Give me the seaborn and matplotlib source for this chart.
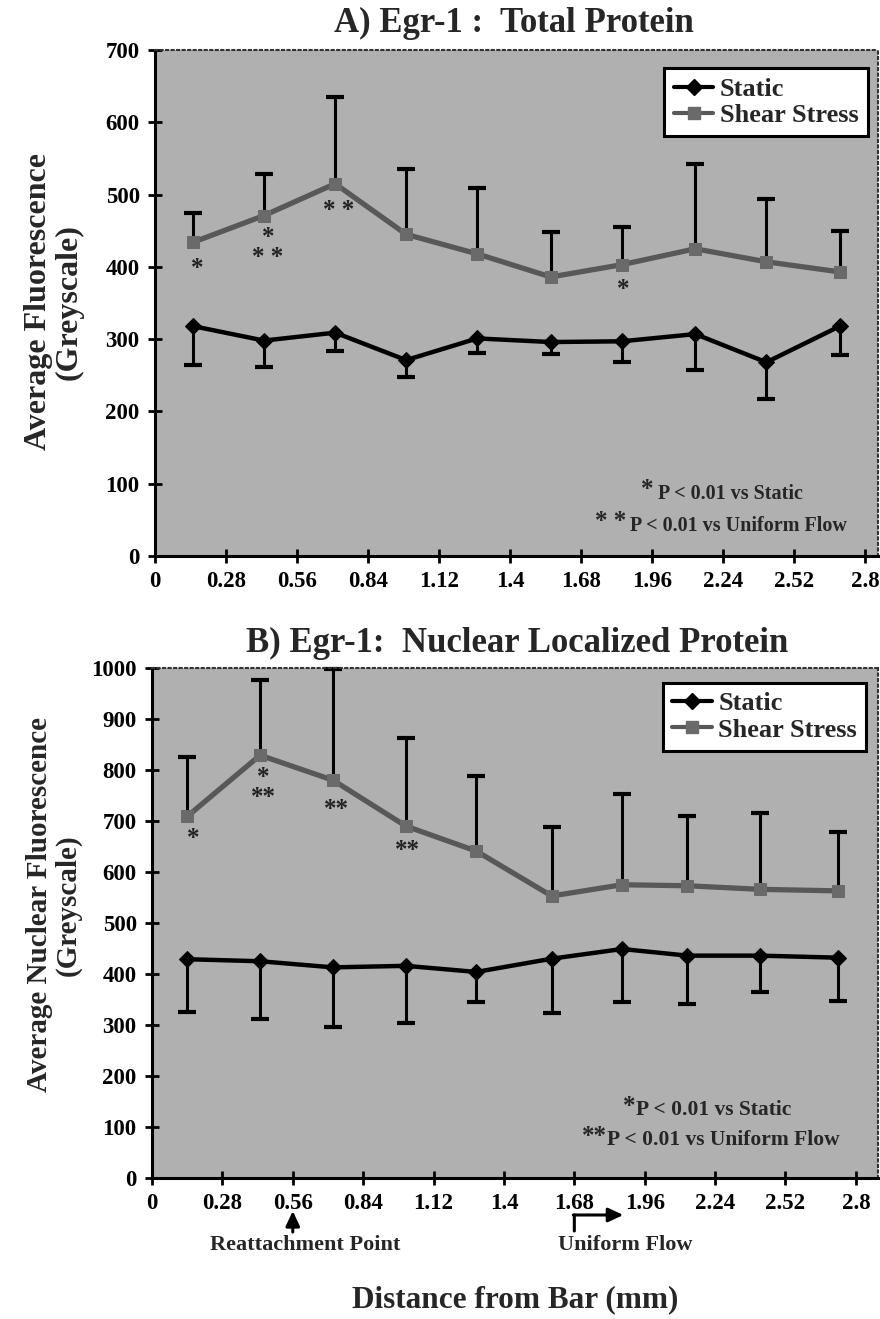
import numpy as np
import pandas as pd
import matplotlib
matplotlib.use("Agg")
import matplotlib.pyplot as plt
from matplotlib.lines import Line2D
import seaborn as sns

# ---------------- data ----------------
distance_a = [0.15, 0.43, 0.71, 0.99, 1.27, 1.56, 1.84, 2.13, 2.41, 2.70]
static_a = [318, 298, 309, 271, 301, 296, 297, 307, 268, 318]
static_a_low = [264, 262, 283, 247, 281, 279, 269, 257, 217, 278]
shear_a = [434, 471, 515, 445, 418, 386, 403, 425, 407, 393]
shear_a_high = [475, 529, 635, 536, 509, 448, 455, 542, 494, 450]

distance_b = [0.14, 0.43, 0.72, 1.01, 1.29, 1.59, 1.87, 2.13, 2.42, 2.73]
static_b = [429, 425, 413, 416, 404, 430, 449, 436, 436, 432]
static_b_low = [325, 312, 296, 304, 345, 324, 346, 342, 364, 347]
shear_b = [709, 829, 780, 690, 641, 553, 575, 573, 566, 563]
shear_b_high = [825, 977, 998, 862, 789, 688, 752, 709, 716, 678]

x_ticks = [0, 0.28, 0.56, 0.84, 1.12, 1.4, 1.68, 1.96, 2.24, 2.52, 2.8]
x_tick_labels = ['0', '0.28', '0.56', '0.84', '1.12', '1.4', '1.68', '1.96', '2.24', '2.52', '2.8']
y_ticks_a = [0, 100, 200, 300, 400, 500, 600, 700]
y_ticks_b = [0, 100, 200, 300, 400, 500, 600, 700, 800, 900, 1000]

# significance marks (x, y, text)
marks_a = [(0.167, 398, '*'), (0.445, 427, '*\n* *'),
           (0.725, 478, '* *'), (1.847, 369, '*')]
marks_b = [(0.165, 665, '*'), (0.443, 766, '*\n**'),
           (0.732, 723, '**'), (1.016, 642, '**')]

# ---------------- style ----------------
sns.set_theme(style="ticks")
plt.rcParams['font.family'] = ['Liberation Serif', 'DejaVu Serif']
plt.rcParams['font.weight'] = 'bold'
plt.rcParams['axes.labelweight'] = 'bold'

W, H = 880, 1319
fig = plt.figure(figsize=(W / 100, H / 100), dpi=100)
fig.patch.set_facecolor('white')

def fx(px):
    return px / W

def fy(py):
    return 1 - py / H

BG = '#b0b0b0'
SHEAR_C = '#585858'
SHEAR_M = '#6a6a6a'


def draw_panel(ax, dist, st, st_low, sh, sh_high, xmax, ymax, yticks, marks, leg_anchor):
    ax.set_facecolor(BG)
    df = pd.DataFrame({
        'distance': list(dist) * 2,
        'value': list(st) + list(sh),
        'condition': ['Static'] * len(dist) + ['Shear Stress'] * len(dist),
    })
    # one-sided error bars
    ax.vlines(dist, st_low, st, colors='black', lw=2.2, zorder=2)
    ax.plot(dist, st_low, linestyle='none', marker='_', markersize=13,
            mew=3, color='black', zorder=2)
    ax.vlines(dist, sh, sh_high, colors='black', lw=2.2, zorder=2, clip_on=False)
    ax.plot(dist, sh_high, linestyle='none', marker='_', markersize=13,
            mew=3, color='black', zorder=2, clip_on=False)
    # lines
    sns.lineplot(data=df[df.condition == 'Shear Stress'], x='distance', y='value',
                 color=SHEAR_C, marker='s', markersize=9, markeredgecolor=SHEAR_M,
                 markerfacecolor=SHEAR_M, linewidth=3.8, ax=ax, zorder=3,
                 legend=False)
    sns.lineplot(data=df[df.condition == 'Static'], x='distance', y='value',
                 color='black', marker='D', markersize=8, markeredgecolor='black',
                 markerfacecolor='black', linewidth=3.2, ax=ax, zorder=4,
                 legend=False)
    for (mx, my, t) in marks:
        ax.text(mx, my, t, ha='center', va='center', fontsize=18,
                color='#222222', fontweight='bold', linespacing=0.8)

    ax.set_xlim(0, xmax)
    ax.set_ylim(0, ymax)
    ax.set_xticks(x_ticks)
    ax.set_xticklabels(x_tick_labels)
    ax.set_yticks(yticks)
    ax.set_yticklabels([str(v) for v in yticks])
    ax.tick_params(axis='both', direction='inout', length=10, width=2,
                   labelsize=16.5, colors='black', pad=6)
    for lab in ax.get_xticklabels() + ax.get_yticklabels():
        lab.set_fontweight('bold')
    ax.set_xlabel('')
    ax.set_ylabel('')
    for s in ['left', 'bottom']:
        ax.spines[s].set_linewidth(2.2)
        ax.spines[s].set_color('black')
    for s in ['top', 'right']:
        ax.spines[s].set_visible(True)
        ax.spines[s].set_linewidth(1.5)
        ax.spines[s].set_linestyle(':')
        ax.spines[s].set_color('#333333')

    handles = [
        Line2D([], [], color='black', lw=3, marker='D', markersize=8),
        Line2D([], [], color=SHEAR_C, lw=3, marker='s', markersize=8,
               markerfacecolor=SHEAR_M, markeredgecolor=SHEAR_M),
    ]
    leg = ax.legend(handles, ['Static', 'Shear Stress'], loc='upper right',
                    bbox_to_anchor=leg_anchor, borderaxespad=0,
                    frameon=True, fancybox=False, framealpha=1,
                    edgecolor='black', facecolor='white', handlelength=1.5,
                    handletextpad=0.25, borderpad=0.35, labelspacing=0.1,
                    prop={'weight': 'bold', 'size': 19})
    leg.get_frame().set_linewidth(2.2)


# ----- panel A -----
axA = fig.add_axes([fx(155), fy(556), fx(878 - 155), (556 - 50) / H])
draw_panel(axA, distance_a, static_a, static_a_low, shear_a, shear_a_high,
           2.85, 700, y_ticks_a, marks_a, (0.986, 0.964))

# ----- panel B -----
axB = fig.add_axes([fx(152), fy(1178), fx(878 - 152), (1178 - 668) / H])
draw_panel(axB, distance_b, static_b, static_b_low, shear_b, shear_b_high,
           2.888, 1000, y_ticks_b, marks_b, (0.984, 0.971))

# titles
fig.text(fx(514), fy(23), 'A) Egr-1 :  Total Protein', ha='center', va='center',
         fontsize=25, fontweight='bold')
fig.text(fx(517), fy(643), 'B) Egr-1:  Nuclear Localized Protein', ha='center',
         va='center', fontsize=25, fontweight='bold')

# y labels
fig.text(fx(54), fy(302), 'Average Fluorescence\n(Greyscale)', ha='center',
         va='center', rotation=90, fontsize=23, fontweight='bold',
         multialignment='center', linespacing=1.05)
fig.text(fx(54), fy(905), 'Average Nuclear Fluorescence\n(Greyscale)', ha='center',
         va='center', rotation=90, fontsize=21, fontweight='bold',
         multialignment='center', linespacing=1.1)

# footnotes
fig.text(fx(647), fy(490), '*', ha='center', va='center', fontsize=18)
fig.text(fx(658), fy(494), 'P < 0.01 vs Static', ha='left', va='center', fontsize=14.5)
fig.text(fx(611), fy(521), '* *', ha='center', va='center', fontsize=18)
fig.text(fx(630), fy(526), 'P < 0.01 vs Uniform Flow', ha='left', va='center', fontsize=14.5)

fig.text(fx(629), fy(1106), '*', ha='center', va='center', fontsize=18)
fig.text(fx(636), fy(1110), 'P < 0.01 vs Static', ha='left', va='center', fontsize=15.5)
fig.text(fx(594), fy(1136), '**', ha='center', va='center', fontsize=18)
fig.text(fx(607), fy(1140), 'P < 0.01 vs Uniform Flow', ha='left', va='center', fontsize=15.5)

# arrows below panel B
axB.annotate('', xy=(0.56, fy(1211)), xycoords=('data', 'figure fraction'),
             xytext=(0.56, fy(1232)), textcoords=('data', 'figure fraction'),
             arrowprops=dict(arrowstyle='-|>,head_length=0.75,head_width=0.35',
                             color='black', lw=2.2, shrinkA=0, shrinkB=0),
             annotation_clip=False)
axB.annotate('', xy=(1.68, fy(1215)), xycoords=('data', 'figure fraction'),
             xytext=(1.68, fy(1231)), textcoords=('data', 'figure fraction'),
             arrowprops=dict(arrowstyle='-', color='black', lw=2.2,
                             shrinkA=0, shrinkB=0),
             annotation_clip=False)
axB.annotate('', xy=(1.875, fy(1215)), xycoords=('data', 'figure fraction'),
             xytext=(1.676, fy(1215)), textcoords=('data', 'figure fraction'),
             arrowprops=dict(arrowstyle='-|>,head_length=0.75,head_width=0.35',
                             color='black', lw=2.2, shrinkA=0, shrinkB=0),
             annotation_clip=False)

fig.text(fx(305), fy(1245), 'Reattachment Point', ha='center', va='center', fontsize=16)
fig.text(fx(625), fy(1245), 'Uniform Flow', ha='center', va='center', fontsize=16)
fig.text(fx(515), fy(1300), 'Distance from Bar (mm)', ha='center', va='center', fontsize=22.5)

fig.savefig('out.png', dpi=100, facecolor='white')
